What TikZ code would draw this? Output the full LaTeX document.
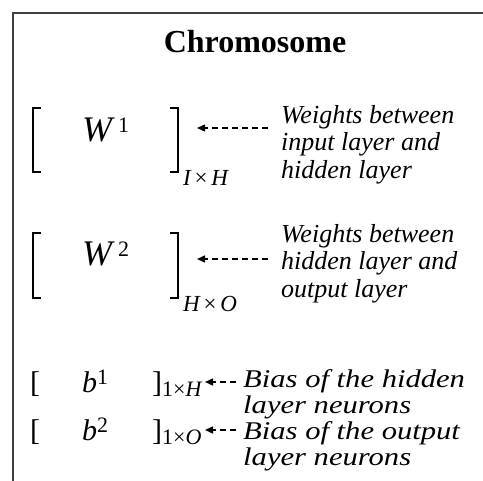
\documentclass[tikz,border=0pt]{standalone}
\usepackage{fontspec}
\setmainfont{Liberation Serif}
\IfFontExistsTF{Liberation Serif Italic}
 {\newfontfamily\noteit{Liberation Serif Italic}%
  \newfontfamily\biasit{Liberation Serif Italic}[FakeStretch=1.2]}
 {\newfontfamily\noteit{Liberation Serif}[FakeSlant=0.2]%
  \newfontfamily\biasit{Liberation Serif}[FakeSlant=0.2,FakeStretch=1.2]}
\usetikzlibrary{arrows.meta}
\tikzset{
  frame/.style={draw=black!75, line width=1.2pt},
  bigbracket/.style={draw=black, line width=2pt},
  mathbig/.style={inner sep=0pt, font=\fontsize{36}{40}\selectfont},
  mathsub/.style={inner sep=0pt, font=\fontsize{23}{26}\selectfont},
  mathsmall/.style={inner sep=0pt, font=\fontsize{30}{34}\selectfont},
  note/.style={inner sep=0pt, align=left, font=\noteit\fontsize{26}{27.5}\selectfont},
  biasnote/.style={inner sep=0pt, align=left, font=\biasit\fontsize{25.5}{26.5}\selectfont},
  pointer/.style={draw=black, line width=1.4pt, dash pattern=on 6pt off 4pt, -{Triangle[length=8pt,width=7pt]}},
}
\newcommand{\supnum}[2]{\raisebox{#1}{\fontsize{22}{24}\selectfont #2}}
\begin{document}
\begin{tikzpicture}[x=1pt, y=-1pt]
\useasboundingbox (0,0) rectangle (483,481);
% frame (cropped box)
\draw[frame] (13,481) -- (13,13) -- (483,13);
\node[inner sep=0pt, font=\bfseries\fontsize{32}{36}\selectfont] (title) at (255,42) {Chromosome};

% row 1
\draw[bigbracket] (41,108) -- (33,108) -- (33,172) -- (41,172);
\draw[bigbracket] (170,108) -- (178,108) -- (178,172) -- (170,172);
\node[mathbig, anchor=base west] (w1) at (82,142) {{\noteit W}\,\supnum{9pt}{1}};
\node[mathsub, anchor=base west] (s1) at (183,186) {{\noteit I}\,×\,{\noteit H}};
\node[note, anchor=north west] (t1) at (281,105) {Weights between\\input layer and\\hidden layer};
\coordinate (a1s) at (268,128);
\coordinate (a1e) at (197,128);
\draw[pointer] (a1s) -- (a1e);

% row 2
\draw[bigbracket] (41,233) -- (33,233) -- (33,298) -- (41,298);
\draw[bigbracket] (170,233) -- (178,233) -- (178,298) -- (170,298);
\node[mathbig, anchor=base west] (w2) at (82,266) {{\noteit W}\,\supnum{9pt}{2}};
\node[mathsub, anchor=base west] (s2) at (183,312) {{\noteit H}\,×\,{\noteit O}};
\node[note, anchor=north west] (t2) at (281,224) {Weights between\\hidden layer and\\output layer};
\coordinate (a2s) at (268,259);
\coordinate (a2e) at (197,259);
\draw[pointer] (a2s) -- (a2e);

% row 3
\node[mathsmall, anchor=base west] (l3) at (30,393) {[};
\node[mathsmall, anchor=base west] (b1) at (82,393) {{\noteit b}\supnum{8pt}{1}};
\node[mathsmall, anchor=base west] (r3) at (152,393) {]\raisebox{-4pt}{\fontsize{22}{24}\selectfont 1×{\noteit H}}};
\coordinate (a3s) at (236,382);
\coordinate (a3e) at (205,382);
\draw[pointer] (a3s) -- (a3e);
\node[biasnote, anchor=north west] (t3) at (243,369) {Bias of the hidden\\layer neurons};

% row 4
\node[mathsmall, anchor=base west] (l4) at (30,441) {[};
\node[mathsmall, anchor=base west] (b2) at (82,441) {{\noteit b}\supnum{8pt}{2}};
\node[mathsmall, anchor=base west] (r4) at (152,441) {]\raisebox{-4pt}{\fontsize{22}{24}\selectfont 1×{\noteit O}}};
\coordinate (a4s) at (236,430);
\coordinate (a4e) at (205,430);
\draw[pointer] (a4s) -- (a4e);
\node[biasnote, anchor=north west] (t4) at (243,421) {Bias of the output\\layer neurons};
\end{tikzpicture}
\end{document}
